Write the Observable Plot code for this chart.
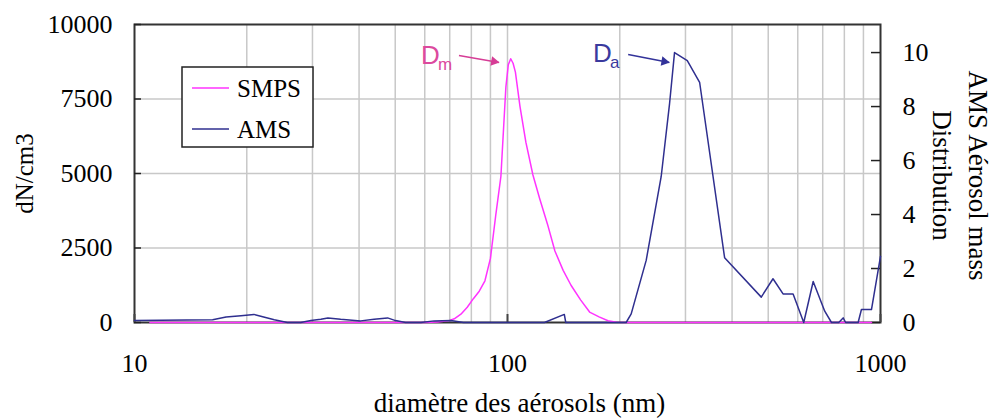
<!DOCTYPE html>
<html><head><meta charset="utf-8">
<script src="https://cdn.jsdelivr.net/npm/d3@7"></script>
<script src="https://cdn.jsdelivr.net/npm/@observablehq/plot@0.6"></script>
<style>
body{margin:0;background:#fff;}
#wrap{position:relative;width:998px;height:419px;overflow:hidden;background:#fff;}
#wrap svg{position:absolute;left:0;top:0;}
</style></head>
<body><div id="wrap"></div>
<script>
// SMPS number distribution (left axis, dN/cm3)
const smpsDiameter = [11, 20, 30, 40, 50, 60, 65, 70, 72, 75, 78, 81, 84, 87, 90, 93, 96, 99, 100.5, 102, 103.5, 105, 108, 112, 117, 122, 128, 134, 141, 148, 157, 166, 176, 186, 196, 205, 300, 500, 700, 946];
const smpsValue    = [0, 0, 0, 0, 0, 0, 15, 70, 124, 280, 510, 800, 1050, 1400, 2150, 3600, 4900, 7900, 8650, 8850, 8700, 8400, 7250, 6050, 4950, 4150, 3300, 2400, 1750, 1250, 760, 350, 190, 60, 5, 0, 0, 0, 0, 0];
// AMS aerosol mass distribution (right axis)
const amsDiameter = [10, 16.2, 17.6, 19.3, 20.9, 21.8, 23.7, 25.7, 27.9, 29.7, 31.6, 33, 35.7, 40.4, 43.9, 47.7, 50.1, 53.3, 58.6, 63.6, 70.5, 76.2, 125.6, 142, 143.3, 208, 214.6, 235.4, 258.2, 271.9, 280.4, 303.4, 327.4, 382, 479, 515, 548, 583, 622.6, 660, 708.8, 738.9, 772.7, 794, 806.6, 871, 889, 945.8, 1000];
const amsValue    = [0.07, 0.1, 0.2, 0.25, 0.3, 0.23, 0.1, 0, 0, 0.07, 0.12, 0.17, 0.12, 0.06, 0.12, 0.17, 0.07, 0, 0, 0.06, 0.07, 0, 0, 0.3, 0, 0, 0.32, 2.3, 5.4, 8.1, 10, 9.7, 8.9, 2.4, 0.94, 1.62, 1.06, 1.06, 0, 1.52, 0.42, 0, 0, 0.17, 0, 0, 0.48, 0.48, 2.45];

const leftTicks = [0, 2500, 5000, 7500, 10000];
const rightTicks = [0, 2, 4, 6, 8, 10];
const xTicks = [10, 100, 1000];
const gridX = [20, 30, 40, 50, 60, 70, 80, 90, 100, 200, 300, 400, 500, 600, 700, 800, 900];
const gridY = [2500, 5000, 7500];
const leftMax = 10000;
const rightMax = 11.04;
const k = leftMax / rightMax;

const seriesNames = ["SMPS", "AMS"];
const seriesColors = ["#ff33ff", "#2f2f8f"];

// annotations (left-axis units)
const annoLabels = [{t: "D", s: "m", x: 58.6, y: 8960, c: "#dc4a9e"}, {t: "D", s: "a", x: 169.6, y: 9013, c: "#3a3a9e"}];
const annoArrows = [{x1: 74.1, y1: 8960, x2: 94.9, y2: 8725, c: "#d63d96"}, {x1: 210.6, y1: 8993, x2: 271.5, y2: 8725, c: "#33339a"}];

const smps = smpsDiameter.map((d, i) => ({d, v: smpsValue[i]}));
const ams = amsDiameter.map((d, i) => ({d, v: amsValue[i]}));

const serif = "'Liberation Serif','Times New Roman',serif";
const sans = "'Liberation Sans',Arial,sans-serif";

const chart = Plot.plot({
  width: 998, height: 419,
  marginLeft: 134, marginRight: 118, marginTop: 24, marginBottom: 97,
  style: {fontFamily: serif, fontSize: "26px", color: "#000", background: "transparent", overflow: "visible"},
  x: {type: "log", domain: [10, 1000], axis: null},
  y: {domain: [0, leftMax], axis: null},
  marks: [
    Plot.ruleX(gridX, {x: d => d, stroke: "#c8c8c8", strokeWidth: 1.5}),
    Plot.ruleY(gridY, {y: d => d, stroke: "#c8c8c8", strokeWidth: 1.5}),
    Plot.frame({stroke: "#333", strokeWidth: 2}),
    Plot.tickY(leftTicks, {y: d => d, insetRight: 739, stroke: "#222", strokeWidth: 1.5}),
    Plot.tickY(rightTicks, {y: d => d * k, insetLeft: 737, stroke: "#222", strokeWidth: 1.5}),
    Plot.tickX(xTicks, {x: d => d, insetTop: 290, stroke: "#444", strokeWidth: 2}),
    Plot.line(smps, {x: "d", y: "v", stroke: seriesColors[0], strokeWidth: 1.5}),
    Plot.line(ams, {x: "d", y: d => d.v * k, stroke: seriesColors[1], strokeWidth: 1.5}),
    Plot.axisY({ticks: leftTicks, tickFormat: d => String(d), tickSize: 0, tickPadding: 22, label: null}),
    Plot.axisY({anchor: "right", ticks: rightTicks.map(t => t * k), tickFormat: d => String(Math.round(d / k)), tickSize: 0, tickPadding: 22, label: null}),
    Plot.axisX({ticks: xTicks, tickFormat: d => String(d), tickSize: 0, tickPadding: 31, label: null}),
    Plot.text(["dN/cm3"], {frameAnchor: "left", textAnchor: "middle", lineAnchor: "middle", dx: -110, rotate: -90, fontSize: 25}),
    Plot.text(["AMS Aérosol mass\nDistribution"], {frameAnchor: "right", textAnchor: "middle", lineAnchor: "middle", dx: 82, dy: 2, rotate: 90, fontSize: 27, lineHeight: 1.333}),
    Plot.text(["diamètre des aérosols (nm)"], {frameAnchor: "bottom", textAnchor: "middle", lineAnchor: "middle", dx: 12, dy: 81, fontSize: 27}),
    Plot.link(annoArrows, {x1: "x1", y1: "y1", x2: "x2", y2: "y2", stroke: "c", strokeWidth: 1.6}),
    Plot.dot(annoArrows, {x: "x2", y: "y2", symbol: "triangle", r: 3.6, fill: "c", stroke: "none", rotate: 100, dx: -5, dy: -1}),
    Plot.text(annoLabels, {x: "x", y: "y", text: "t", fill: "c", fontSize: 26, fontFamily: sans, textAnchor: "start"}),
    Plot.text(annoLabels, {x: "x", y: "y", text: "s", fill: "c", fontSize: 17, fontFamily: sans, textAnchor: "start", dx: 17, dy: 9})
  ]
});
const wrap = document.getElementById("wrap");
wrap.appendChild(chart);

// legend overlay
const lg = d3.select(wrap).append("svg").attr("width", 998).attr("height", 419).style("pointer-events", "none");
lg.append("rect").attr("x", 182).attr("y", 67).attr("width", 131).attr("height", 80)
  .attr("fill", "#fff").attr("stroke", "#222").attr("stroke-width", 1.5);
seriesNames.forEach((name, i) => {
  const yy = 88 + i * 41;
  lg.append("line").attr("x1", 192).attr("x2", 229).attr("y1", yy).attr("y2", yy)
    .attr("stroke", seriesColors[i]).attr("stroke-width", 1.5);
  lg.append("text").attr("x", 237).attr("y", yy + 9).text(name)
    .style("font-family", serif).style("font-size", "25px").attr("fill", "#000");
});
</script>
</body></html>
